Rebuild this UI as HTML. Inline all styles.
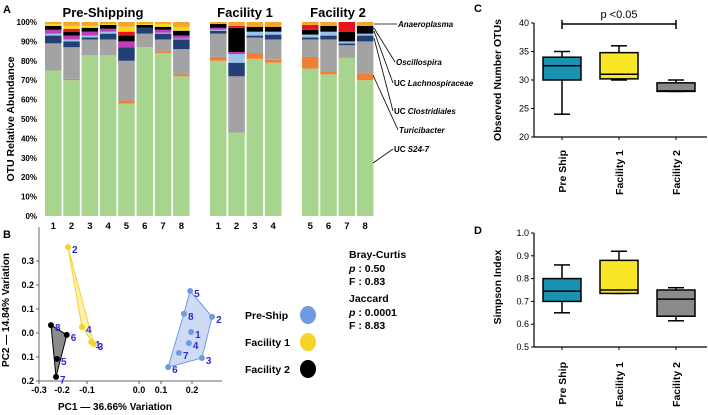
<!DOCTYPE html>
<html><head><meta charset="utf-8"><style>
html,body{margin:0;padding:0;background:#fff;}
svg{display:block;font-family:"Liberation Sans",Arial,sans-serif;font-weight:bold;}
</style></head><body>
<svg id="fig" width="708" height="415" viewBox="0 0 708 415">
  <text x="3" y="13" font-size="11">A</text>
  <text x="3" y="238" font-size="11">B</text>
  <text x="474" y="12" font-size="11">C</text>
  <text x="474" y="234" font-size="11">D</text>
  <g id="pA"></g>
  <g id="pB"></g>
  <g id="pC"></g>
  <g id="pD"></g>
</svg>
<script>
// ---------- Panel A data ----------
const barLabels = ["1","2","3","4","5","6","7","8","1","2","3","4","5","6","7","8"];
const taxa = ["UC S24-7","Turicibacter","UC Clostridiales","UC Lachnospiraceae","Oscillospira","Other-magenta","Other-black","Other-red","Other-yellow","Anaeroplasma"];
const s24 = [75,70,83,83,58,87,84,72, 80,43,81,79, 76,73,81.5,70];
const turic = [0,0.7,0,0,1.5,0,1,1, 2,0,3,1.5, 6,1.5,0,3.5];
const clost = [14,16.3,8,8,20.5,7,6,13, 12,29,8,10.5, 9,16.5,6.5,16.5];
const lachno = [4,3,1,3,7,3,3,5, 1.5,7,1,2.5, 1,2,1,3];
const lightb = [1,1,1,1,0,0,0.5,0.5, 0.5,4.5,2,1.5, 1.5,2,1,1];
const magenta = [2,2,2,1.5,3,0,1.5,1.5, 1,1,0,0, 0,0,0,0];
const black = [2,2,2,2,3,1.5,1.5,2.5, 2,12.5,2.5,2.5, 2.5,3,5,4];
const red = [0,1.5,0,0,2,0,0,0, 0,1,0,0, 2.5,0,5,0];
const yellow = [1,1.5,1,0.5,2.5,0.5,1.5,2, 0,0,0,0, 0,0,0,0];
const topOr = [1,2,2,1,2.5,1,1,2.5, 1,2,2.5,2.5, 1.5,2,0,2];
const yTicksA = ["0%","10%","20%","30%","40%","50%","60%","70%","80%","90%","100%"];
const taxaColors = ["#a7d48f","#ee8034","#a3a3a3","#223f76","#9cc3e8","#c03cb8","#000000","#e8141c","#f8d81c","#f4a62a"];

// ---------- Panel B data ----------
const xTicksB = [-0.3,-0.2,-0.1,0.0,0.1,0.2];
const yTicksB = [0.3,0.2,0.1,0.0,-0.1,-0.2];
const yTickTextB = ["0.3","0.2","0.1","0.0","0.1","0.2"];
const preIds = ["5","8","2","1","4","7","3","6"];
const preX = [0.194,0.174,0.265,0.197,0.19,0.158,0.232,0.123];
const preY = [0.175,0.08,0.067,0.004,-0.042,-0.083,-0.104,-0.142];
const preHull = [0,2,6,7,1];
const f1Ids = ["2","4","1","3"];
const f1X = [-0.176,-0.12,-0.092,-0.087];
const f1Y = [0.358,0.025,-0.037,-0.046];
const f1Hull = [0,3,1];
const f2Ids = ["8","6","5","7"];
const f2X = [-0.248,-0.181,-0.222,-0.226];
const f2Y = [0.033,-0.008,-0.108,-0.183];
const f2Hull = [0,1,3];

// ---------- Panel C/D data ----------
const boxCats = ["Pre Ship","Facility 1","Facility 2"];
const otuMin = [24,30,28], otuQ1 = [30,30.2,28], otuMed = [32.5,31,28.1], otuQ3 = [34,34.8,29.5], otuMax = [35,36,30];
const otuTicks = [20,25,30,35,40];
const simMin = [0.65,0.735,0.615], simQ1 = [0.70,0.735,0.635], simMed = [0.745,0.75,0.71], simQ3 = [0.80,0.88,0.75], simMax = [0.86,0.92,0.76];
const simTicks = [0.5,0.6,0.7,0.8,0.9,1.0];

const NS="http://www.w3.org/2000/svg";
function mk(parent,tag,attrs,txt){const e=document.createElementNS(NS,tag);for(const k in attrs)e.setAttribute(k,attrs[k]);if(txt!==undefined)e.textContent=txt;parent.appendChild(e);return e;}

// ===== Panel A =====
(function(){
  const g=document.getElementById('pA');
  const y0=216,y1=22;
  const yA=v=>y0-(y0-y1)*v/100;
  const barX=[45,63.3,81.6,99.9,118.2,136.5,154.8,173.1, 210,228.3,246.6,264.9, 302,320.3,338.6,356.9];
  const bw=16.5;
  const series=[s24,turic,clost,lachno,lightb,magenta,black,red,yellow,topOr];
  yTicksA.forEach((t,i)=>{
    const tk=mk(g,'text',{x:37,y:yA(i*10)+3,'font-size':8,'text-anchor':'end'},t);
    
    
  });
  const yl=mk(g,'text',{x:0,y:0,'font-size':10.5,'text-anchor':'middle',transform:'translate(14,119) rotate(-90)'},'OTU Relative Abundance');
  
  
  barLabels.forEach((lab,i)=>{
    let cum=0;
    series.forEach((s,k)=>{
      const v=s[i]; if(v<=0) return;
      const r=mk(g,'rect',{x:barX[i],y:yA(cum+v),width:bw,height:yA(cum)-yA(cum+v),fill:taxaColors[k]});
      
      
      cum+=v;
    });
    const t=mk(g,'text',{x:barX[i]+bw/2,y:229,'font-size':9.5,'text-anchor':'middle'},lab);
    
    
  });
  [["Pre-Shipping",103,17],["Facility 1",245,17],["Facility 2",338,17]].forEach(a=>{
    const t=mk(g,'text',{x:a[1],y:a[2],'font-size':13,'text-anchor':'middle'},a[0]);
    
    
  });
  const ann=[["Anaeroplasma",374,24,397,27,true],["Oscillospira",374,28,395,65,true],["UC Lachnospiraceae",374,31,393,86,false],["UC Clostridiales",374,38,393,114,false],["Turicibacter",373,75,398,133,true],["UC S24-7",373,163,393,152,false]];
  ann.forEach(a=>{
    const l=mk(g,'line',{x1:a[1],y1:a[2],x2:a[3],y2:a[4]-3,stroke:'#000','stroke-width':0.8});
    
    
    let t;
    if(a[5]){t=mk(g,'text',{x:a[3]+1,y:a[4],'font-size':8,'font-style':'italic'},a[0]);}
    else{t=mk(g,'text',{x:a[3]+1,y:a[4],'font-size':8});const p=a[0].split(' ');mk(t,'tspan',{},p[0]+' ');mk(t,'tspan',{'font-style':'italic'},p.slice(1).join(' '));}
    
    
  });
})();

// ===== Panel B =====
(function(){
  const g=document.getElementById('pB');
  const tickPx=[39,62,87,139,161,192];
  const xB=v=>{for(let i=0;i<xTicksB.length-1;i++){if(v<=xTicksB[i+1]||i==xTicksB.length-2){const f=(v-xTicksB[i])/(xTicksB[i+1]-xTicksB[i]);return tickPx[i]+f*(tickPx[i+1]-tickPx[i]);}}};
  const yB=v=>333-240*v;
  mk(g,'line',{x1:39,y1:227,x2:39,y2:381,stroke:'#666','stroke-width':1});
  mk(g,'line',{x1:39,y1:381,x2:222,y2:381,stroke:'#666','stroke-width':1});
  xTicksB.forEach((v,i)=>{
    mk(g,'line',{x1:xB(v),y1:381,x2:xB(v),y2:384,stroke:'#666'});
    const t=mk(g,'text',{x:xB(v),y:393,'font-size':9,'text-anchor':'middle'},v.toFixed(1));
    
    
  });
  yTicksB.forEach((v,i)=>{
    mk(g,'line',{x1:36,y1:yB(v),x2:39,y2:yB(v),stroke:'#666'});
    const t=mk(g,'text',{x:34,y:yB(v)+3,'font-size':9,'text-anchor':'end'},yTickTextB[i]);
    
    
  });
  const xl=mk(g,'text',{x:115,y:410,'font-size':10,'text-anchor':'middle'},'PC1 — 36.66% Variation');
  
  
  const yl=mk(g,'text',{x:0,y:0,'font-size':10,'text-anchor':'middle',transform:'translate(9,310) rotate(-90)'},'PC2 — 14.84% Variation');
  
  
  const groups=[[preIds,preX,preY,preHull,'#6f9be0','rgba(111,155,224,0.35)','pre-ship'],[f1Ids,f1X,f1Y,f1Hull,'#f5d327','rgba(245,211,39,0.35)','facility-1'],[f2Ids,f2X,f2Y,f2Hull,'#000','rgba(90,90,90,0.7)','facility-2']];
  groups.forEach(gr=>{
    const pts=gr[3].map(i=>xB(gr[1][i]).toFixed(1)+','+yB(gr[2][i]).toFixed(1)).join(' ');
    const pg=mk(g,'polygon',{points:pts,fill:gr[5],stroke:gr[4],'stroke-width':1});
    
    
    gr[0].forEach((id,i)=>{
      const c=mk(g,'circle',{cx:xB(gr[1][i]),cy:yB(gr[2][i]),r:3,fill:gr[4]});
      
      
      const t=mk(g,'text',{x:xB(gr[1][i])+4,y:yB(gr[2][i])+6,'font-size':10,fill:'#2a2ad0'},id);
      
      
    });
  });
  [["Pre-Ship",315,'#6f9be0'],["Facility 1",342,'#f5d327'],["Facility 2",369,'#000']].forEach(l=>{
    const t=mk(g,'text',{x:245,y:l[1]+4,'font-size':10.5},l[0]);
    
    
    const e=mk(g,'ellipse',{cx:308,cy:l[1],rx:8,ry:9,fill:l[2]});
    
    
  });
  const stats=[["Bray-Curtis",258],["p : 0.50",272],["F : 0.83",285],["Jaccard",302],["p : 0.0001",316],["F : 8.83",329]];
  stats.forEach(s=>{
    let t;
    if(s[0].startsWith('p')){t=mk(g,'text',{x:349,y:s[1],'font-size':10.5});mk(t,'tspan',{'font-style':'italic'},'p');mk(t,'tspan',{},s[0].slice(1));}
    else t=mk(g,'text',{x:349,y:s[1],'font-size':10.5},s[0]);
    
    
  });
})();

// ===== Box plots =====
function boxPanel(id,ticks,mn,q1,md,q3,mx,yTop,yBot,ytitle,titleY,fmt,catTop){
  const g=document.getElementById(id);
  const lo=ticks[0],hi=ticks[ticks.length-1];
  const yS=v=>yBot-(yBot-yTop)*(v-lo)/(hi-lo);
  const cx=[562,619,676];
  const cols=['#1a93b0','#f8e627','#8a8a8a'];
  mk(g,'line',{x1:534,y1:yTop,x2:534,y2:yBot,stroke:'#000','stroke-width':1.2});
  mk(g,'line',{x1:534,y1:yBot,x2:707,y2:yBot,stroke:'#000','stroke-width':1.2});
  ticks.forEach(v=>{
    mk(g,'line',{x1:531,y1:yS(v),x2:534,y2:yS(v),stroke:'#000'});
    const t=mk(g,'text',{x:529,y:yS(v)+3,'font-size':9,'font-weight':'normal','text-anchor':'end'},fmt(v));
    
    
  });
  const yl=mk(g,'text',{x:0,y:0,'font-size':10.5,'text-anchor':'middle',transform:'translate(501,'+titleY+') rotate(-90)'},ytitle);
  
  
  boxCats.forEach((c,i)=>{
    const x=cx[i],w=38;
    mk(g,'line',{x1:x,y1:yBot,x2:x,y2:yBot+3,stroke:'#000'});
    mk(g,'line',{x1:x,y1:yS(mx[i]),x2:x,y2:yS(mn[i]),stroke:'#000','stroke-width':1.5});
    mk(g,'line',{x1:x-8,y1:yS(mx[i]),x2:x+8,y2:yS(mx[i]),stroke:'#000','stroke-width':1.5});
    mk(g,'line',{x1:x-8,y1:yS(mn[i]),x2:x+8,y2:yS(mn[i]),stroke:'#000','stroke-width':1.5});
    const b=mk(g,'rect',{x:x-w/2,y:yS(q3[i]),width:w,height:Math.max(1,yS(q1[i])-yS(q3[i])),fill:cols[i],stroke:'#000','stroke-width':1.5});
    
    
    mk(g,'line',{x1:x-w/2,y1:yS(md[i]),x2:x+w/2,y2:yS(md[i]),stroke:'#000','stroke-width':1.5});
    const t=mk(g,'text',{x:0,y:0,'font-size':10.5,'text-anchor':'end',transform:'translate('+(x+4)+','+catTop+') rotate(-90)'},c);
    
    
  });
  return {g,yS,cx};
}
const C=boxPanel('pC',otuTicks,otuMin,otuQ1,otuMed,otuQ3,otuMax,23,137,'Observed Number OTUs',80,v=>String(v),150);
mk(C.g,'line',{x1:562,y1:24,x2:676,y2:24,stroke:'#000','stroke-width':1.5});
mk(C.g,'line',{x1:562,y1:20,x2:562,y2:29,stroke:'#000','stroke-width':1.5});
mk(C.g,'line',{x1:676,y1:20,x2:676,y2:29,stroke:'#000','stroke-width':1.5});
const pt=mk(C.g,'text',{x:619,y:18,'font-size':11,'font-weight':'normal','text-anchor':'middle'},'p <0.05');


boxPanel('pD',simTicks,simMin,simQ1,simMed,simQ3,simMax,233,347,'Simpson Index',287,v=>v.toFixed(1),362);
</script>
</body></html>
